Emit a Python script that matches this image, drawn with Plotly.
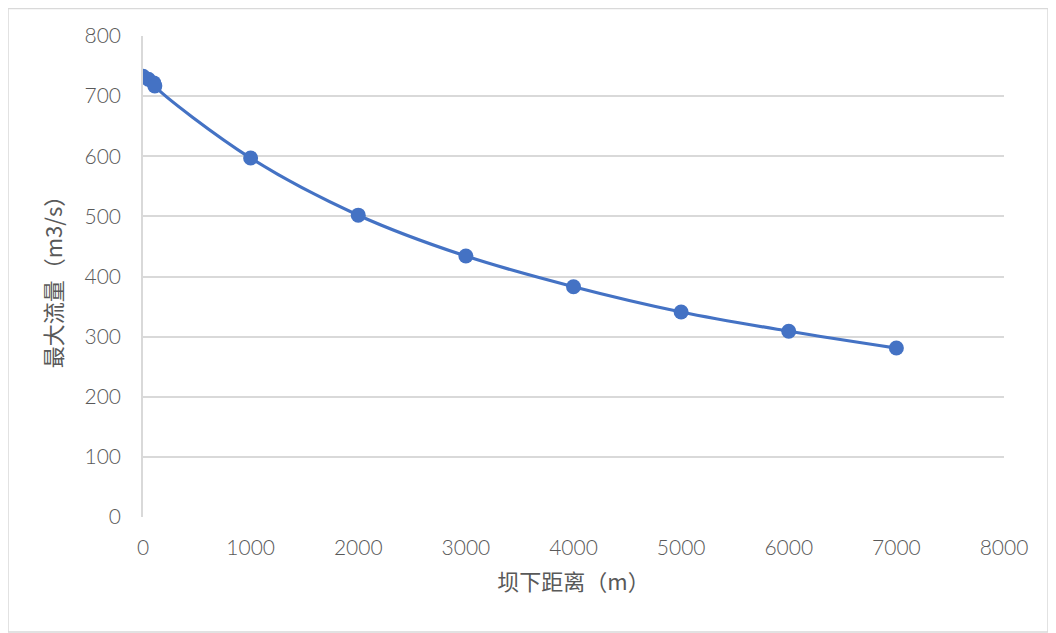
import plotly.graph_objects as go

distance_m = [0, 50, 100, 110, 1000, 2000, 3000, 4000, 5000, 6000, 7000]
max_flow = [733, 728, 722, 717, 597, 502, 434, 383, 341, 309, 281]
x_ticks = [0, 1000, 2000, 3000, 4000, 5000, 6000, 7000, 8000]
y_ticks = [0, 100, 200, 300, 400, 500, 600, 700, 800]

num_font = "Lato, Noto Sans, sans-serif"
cjk_font = "Noto Sans CJK SC, sans-serif"
grey = "#595959"

fig = go.Figure()
fig.add_trace(go.Scatter(
    x=distance_m, y=max_flow, mode="lines+markers",
    line=dict(color="#4472C4", width=3.2, shape="spline", smoothing=1.0),
    marker=dict(color="#4472C4", size=15),
    showlegend=False,
))

# page body has an 8px offset, so the figure is 1048x625 placed at (8, 8)
L, R, T, B = 135, 52, 28, 116
PW, PH = 1048 - L - R, 625 - T - B
fig.update_layout(
    width=1048, height=625,
    margin=dict(l=L, r=R, t=T, b=B),
    paper_bgcolor="white", plot_bgcolor="white",
    font=dict(family=num_font, color=grey, size=20),
    xaxis=dict(
        range=[0, 8000], tickvals=x_ticks, showgrid=False, zeroline=False,
        showline=False, ticks="outside", ticklen=12, tickcolor="rgba(0,0,0,0)",
        tickfont=dict(family=num_font, size=21, color=grey, weight=300),
        title=dict(text="坝下距离（m）", font=dict(family=cjk_font, size=22, color=grey), standoff=16),
    ),
    yaxis=dict(
        range=[0, 800], tickvals=y_ticks, showgrid=True, gridcolor="#D9D9D9",
        gridwidth=1.5, zeroline=False, showline=True, linecolor="#D9D9D9", linewidth=1.5,
        ticks="outside", ticklen=16, tickcolor="rgba(0,0,0,0)",
        tickfont=dict(family=num_font, size=21, color=grey, weight=300),
        title=dict(text="最大流量（m3/s）", font=dict(family=cjk_font, size=22, color=grey), standoff=16),
    ),
    shapes=[dict(type="rect", xref="paper", yref="paper",
                 x0=-L / PW, x1=(1040 - L) / PW, y0=-(B - 1) / PH, y1=(PH + T) / PH - 0.001,
                 line=dict(color="#D9D9D9", width=1.5))],
)

fig.write_html("out.html")
